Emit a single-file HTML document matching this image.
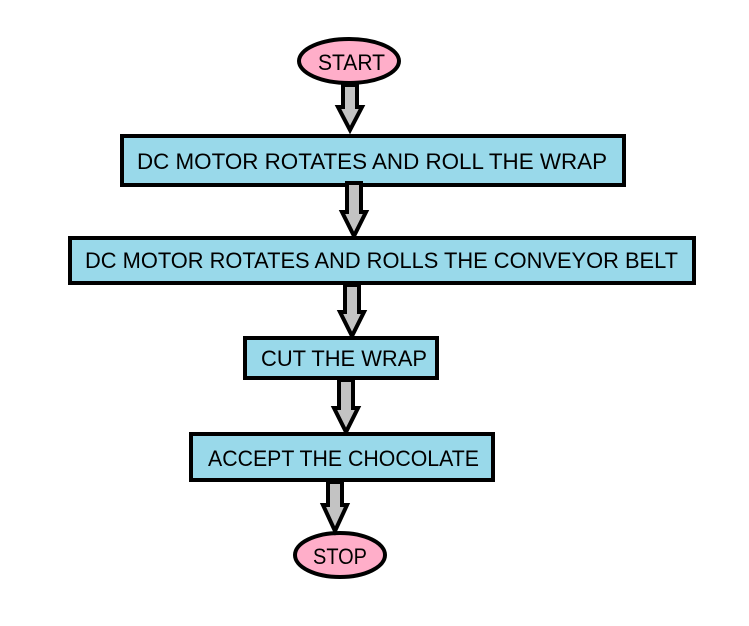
<!DOCTYPE html>
<html><head><meta charset="utf-8"><style>html,body{margin:0;padding:0;background:#fff}svg{display:block}</style></head>
<body>
<svg width="749" height="626" viewBox="0 0 749 626" xmlns="http://www.w3.org/2000/svg" font-family="Liberation Sans, sans-serif" font-size="22">
<g stroke="#000" stroke-width="4" stroke-linejoin="miter">
<ellipse cx="349" cy="61" rx="50" ry="22" fill="#ffaec9"/>
<ellipse cx="340" cy="555" rx="45" ry="22" fill="#ffaec9"/>
<polygon points="343,85 357,85 357,107 362,107 350,130 338,107 343,107" fill="#c3c3c3"/>
<rect x="122" y="136" width="502" height="49" fill="#99d9ea"/>
<polygon points="347,183 361,183 361,212 366,212 354,236 342,212 347,212" fill="#c3c3c3"/>
<rect x="70" y="238" width="624" height="45" fill="#99d9ea"/>
<polygon points="345,285 359,285 359,312 364,312 352,336 340,312 345,312" fill="#c3c3c3"/>
<rect x="245" y="338" width="192" height="40" fill="#99d9ea"/>
<polygon points="339,380 353,380 353,408 358,408 346,432 334,408 339,408" fill="#c3c3c3"/>
<rect x="191" y="434" width="302" height="46" fill="#99d9ea"/>
<polygon points="328,482 342,482 342,505 347,505 335,531 323,505 328,505" fill="#c3c3c3"/>
</g>
<g fill="#000">
<text x="318" y="70" textLength="67" lengthAdjust="spacingAndGlyphs">START</text>
<text x="137" y="169" textLength="470" lengthAdjust="spacingAndGlyphs">DC MOTOR ROTATES AND ROLL THE WRAP</text>
<text x="85" y="268" textLength="593" lengthAdjust="spacingAndGlyphs">DC MOTOR ROTATES AND ROLLS THE CONVEYOR BELT</text>
<text x="261" y="366" textLength="166" lengthAdjust="spacingAndGlyphs">CUT THE WRAP</text>
<text x="208" y="466" textLength="271" lengthAdjust="spacingAndGlyphs">ACCEPT THE CHOCOLATE</text>
<text x="313" y="564" textLength="54" lengthAdjust="spacingAndGlyphs">STOP</text>
</g>
</svg>
</body></html>
